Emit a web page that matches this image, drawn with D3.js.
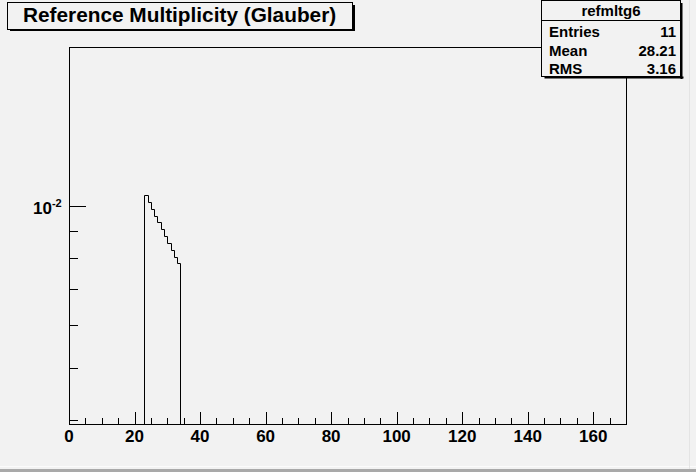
<!DOCTYPE html>
<html lang="en">
<head>
	<meta charset="UTF-8"/>
	<title>Reference Multiplicity (Glauber)</title>
	<script src="https://d3js.org/d3.v7.min.js"></script>
	<style>
		body { margin:0; background:#f2f2f2; }
		svg { display:block; }
		text { font-family:"Liberation Sans", Arial, Helvetica, sans-serif; font-weight:bold; fill:#000; }
	</style>
</head>
<body>
<script>

	var w = 696;
	var h = 472;

	// frame of the pad
	var fLeft = 69, fRight = 626, fTop = 47, fBottom = 424;

	// histogram: 11 bins of width 1 starting at 23
	var binStart = 23;
	var binWidth = 1;
	var binValues = [0.01048, 0.01018, 0.00989, 0.00960, 0.00933, 0.00906,
	                 0.00880, 0.00855, 0.00830, 0.00806, 0.00783];

	var xDomain = [0, 170];
	var yDomain = [0.00393, 0.0198];
	var xTicks = [0, 20, 40, 60, 80, 100, 120, 140, 160];
	var yMajorTicks = [0.01];
	var yMinorTicks = [0.004, 0.005, 0.006, 0.007, 0.008, 0.009];

	var statsName = "refmltg6";
	var statsLabels = ["Entries", "Mean", "RMS"];
	var statsValues = ["11", "28.21", "3.16"];
	var title = "Reference Multiplicity (Glauber)";

	var xScale = d3.scaleLinear()
				.domain(xDomain)
				.range([fLeft, fRight]);

	var yScale = d3.scaleLog()
				.domain(yDomain)
				.range([fBottom, fTop]);

	var svg = d3.select("body")
				.append("svg")
				.attr("width", w)
				.attr("height", h);

	svg.append("rect")
		.attr("width", w).attr("height", h)
		.attr("fill", "#f2f2f2");

	// canvas bevel at the bottom / right
	svg.append("line").attr("x1", 0).attr("x2", w).attr("y1", 466.5).attr("y2", 466.5)
		.attr("stroke", "#fbfbfb");
	svg.append("rect").attr("x", 0).attr("y", 469).attr("width", w).attr("height", 3)
		.attr("fill", "#a9a9a9");
	svg.append("line").attr("x1", 689.5).attr("x2", 689.5).attr("y1", 0).attr("y2", 469)
		.attr("stroke", "#e4e4e4");

	// frame
	svg.append("rect")
		.attr("x", fLeft + 0.5).attr("y", fTop + 0.5)
		.attr("width", fRight - fLeft).attr("height", fBottom - fTop)
		.attr("fill", "none")
		.attr("stroke", "black");

	// histogram outline
	var pts = [];
	pts.push([xScale(binStart), fBottom]);
	binValues.forEach(function(v, i) {
		var x0 = binStart + i * binWidth;
		pts.push([xScale(x0), yScale(v)]);
		pts.push([xScale(x0 + binWidth), yScale(v)]);
	});
	pts.push([xScale(binStart + binValues.length * binWidth), fBottom]);

	svg.append("path")
		.attr("d", d3.line()(pts.map(function(p) { return [Math.round(p[0]) + 0.5, Math.round(p[1]) + 0.5]; })))
		.attr("fill", "none")
		.attr("stroke", "black")
		.attr("stroke-width", 1);

	// x axis ticks
	var xMinor = d3.range(0, 171, 5).filter(function(d) { return d % 20 != 0; });
	svg.selectAll("line.xmaj")
		.data(xTicks).enter().append("line")
		.attr("x1", function(d) { return Math.round(xScale(d)) + 0.5; })
		.attr("x2", function(d) { return Math.round(xScale(d)) + 0.5; })
		.attr("y1", fBottom).attr("y2", fBottom - 12)
		.attr("stroke", "black");
	svg.selectAll("line.xmin")
		.data(xMinor).enter().append("line")
		.attr("x1", function(d) { return Math.round(xScale(d)) + 0.5; })
		.attr("x2", function(d) { return Math.round(xScale(d)) + 0.5; })
		.attr("y1", fBottom).attr("y2", fBottom - 6)
		.attr("stroke", "black");
	svg.selectAll("text.xlab")
		.data(xTicks).enter().append("text")
		.attr("x", function(d) { return xScale(d); })
		.attr("y", 442)
		.attr("text-anchor", "middle")
		.attr("font-size", 17)
		.text(function(d) { return d; });

	// y axis ticks
	svg.selectAll("line.ymaj")
		.data(yMajorTicks).enter().append("line")
		.attr("x1", fLeft).attr("x2", fLeft + 17)
		.attr("y1", function(d) { return Math.round(yScale(d)) + 0.5; })
		.attr("y2", function(d) { return Math.round(yScale(d)) + 0.5; })
		.attr("stroke", "black");
	svg.selectAll("line.ymin")
		.data(yMinorTicks).enter().append("line")
		.attr("x1", fLeft).attr("x2", fLeft + 9)
		.attr("y1", function(d) { return Math.round(yScale(d)) + 0.5; })
		.attr("y2", function(d) { return Math.round(yScale(d)) + 0.5; })
		.attr("stroke", "black");
	var ylab = svg.selectAll("text.ylab")
		.data(yMajorTicks).enter().append("text")
		.attr("x", 33)
		.attr("y", function(d) { return yScale(d) + 8; })
		.attr("font-size", 17);
	ylab.append("tspan").text("10");
	ylab.append("tspan")
		.attr("dy", -7)
		.attr("font-size", 11)
		.text(function(d) { return Math.round(Math.log10(d)); });

	// title box
	svg.append("rect").attr("x", 352).attr("y", 5).attr("width", 3).attr("height", 26).attr("fill", "black");
	svg.append("rect").attr("x", 10).attr("y", 29).attr("width", 345).attr("height", 2).attr("fill", "black");
	svg.append("rect")
		.attr("x", 7.5).attr("y", 2.5).attr("width", 345).attr("height", 27)
		.attr("fill", "#f2f2f2").attr("stroke", "black");
	svg.append("text")
		.attr("x", 23).attr("y", 22)
		.attr("font-size", 20.8)
		.text(title);

	// stats box
	var sx = 541.5, sy = 0.5, sw = 139, sh = 76;
	svg.append("rect").attr("x", sx + sw).attr("y", 3).attr("width", 2).attr("height", sh).attr("fill", "black");
	svg.append("rect").attr("x", sx + 3).attr("y", sy + sh).attr("width", sw).attr("height", 2).attr("fill", "black");
	svg.append("rect")
		.attr("x", sx).attr("y", sy).attr("width", sw).attr("height", sh)
		.attr("fill", "#f2f2f2").attr("stroke", "black");
	svg.append("line").attr("x1", sx).attr("x2", sx + sw).attr("y1", 20.5).attr("y2", 20.5).attr("stroke", "black");
	svg.append("text")
		.attr("x", sx + sw / 2).attr("y", 16)
		.attr("text-anchor", "middle")
		.attr("font-size", 15)
		.text(statsName);
	var rowY = [36.5, 55.5, 74];
	svg.selectAll("text.slab")
		.data(statsLabels).enter().append("text")
		.attr("x", 549).attr("y", function(d, i) { return rowY[i]; })
		.attr("font-size", 15)
		.text(function(d) { return d; });
	svg.selectAll("text.sval")
		.data(statsValues).enter().append("text")
		.attr("x", 676).attr("y", function(d, i) { return rowY[i]; })
		.attr("text-anchor", "end")
		.attr("font-size", 15)
		.text(function(d) { return d; });

</script>
</body>
</html>
